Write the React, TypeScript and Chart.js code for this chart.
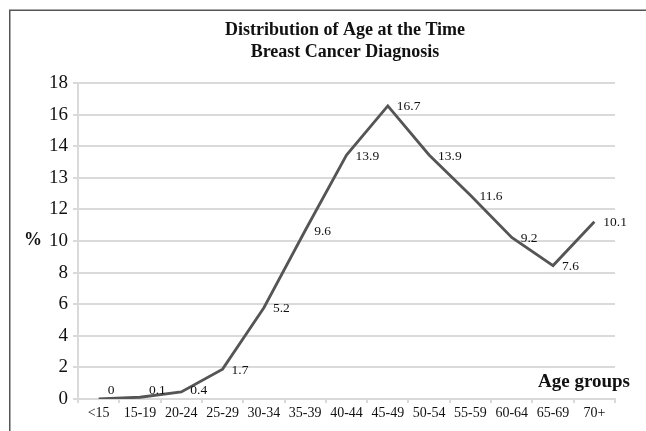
import React, { useEffect, useRef } from "react";
import { Chart, registerables } from "chart.js";

Chart.register(...registerables);

const categories = ["<15", "15-19", "20-24", "25-29", "30-34", "35-39", "40-44", "45-49", "50-54", "55-59", "60-64", "65-69", "70+"];
const percentValues = [0, 0.1, 0.4, 1.7, 5.2, 9.6, 13.9, 16.7, 13.9, 11.6, 9.2, 7.6, 10.1];
const yTickLabels = ["0", "2", "4", "6", "8", "10", "12", "13", "14", "16", "18"];
const yMax = 18;
const titleLines = ["Distribution of Age at the Time", "Breast Cancer Diagnosis"];
const xAxisTitle = "Age groups";
const yAxisTitle = "%";

const FONT = '"Liberation Serif", "DejaVu Serif", serif';

const decorPlugin = {
  id: "decor",
  beforeDraw(chart: any) {
    const ctx = chart.ctx;
    ctx.save();
    ctx.fillStyle = "#ffffff";
    ctx.fillRect(0, 0, chart.width, chart.height);
    ctx.strokeStyle = "#555555";
    ctx.lineWidth = 1.5;
    ctx.beginPath();
    ctx.moveTo(9.75, chart.height);
    ctx.lineTo(9.75, 10.25);
    ctx.lineTo(chart.width, 10.25);
    ctx.stroke();
    ctx.restore();
  },
  afterDatasetsDraw(chart: any) {
    const ctx = chart.ctx;
    const area = chart.chartArea;
    const meta = chart.getDatasetMeta(0);
    ctx.save();
    ctx.fillStyle = "#111111";
    ctx.font = `13.5px ${FONT}`;
    ctx.textAlign = "left";
    ctx.textBaseline = "middle";
    meta.data.forEach((pt: any, i: number) => {
      const y = Math.min(pt.y + 1, area.bottom - 9);
      ctx.fillText(String(percentValues[i]), pt.x + 9, y);
    });
    ctx.fillStyle = "#111";
    ctx.font = `bold 18px ${FONT}`;
    ctx.textAlign = "center";
    ctx.fillText(titleLines[0], 345, 30);
    ctx.fillText(titleLines[1], 345, 52);
    ctx.font = `bold 19px ${FONT}`;
    ctx.textAlign = "right";
    ctx.fillText(xAxisTitle, 630, 382);
    ctx.font = `bold 18px ${FONT}`;
    ctx.textAlign = "center";
    ctx.fillText(yAxisTitle, 33, 240);
    ctx.restore();
  },
};

export default function App() {
  const ref = useRef<HTMLCanvasElement | null>(null);
  useEffect(() => {
    if (!ref.current) return;
    const chart = new Chart(ref.current, {
      type: "line",
      data: {
        labels: categories,
        datasets: [
          {
            data: percentValues,
            borderColor: "#555555",
            borderWidth: 2.8,
            pointRadius: 0,
            tension: 0,
            fill: false,
          },
        ],
      },
      options: {
        animation: false,
        responsive: false,
        devicePixelRatio: 1,
        layout: { padding: { top: 83, right: 31, left: 0, bottom: 0 } },
        plugins: {
          legend: { display: false },
          title: { display: false },
          tooltip: { enabled: false },
        },
        scales: {
          x: {
            type: "category",
            offset: true,
            grid: {
              offset: true,
              drawOnChartArea: false,
              drawTicks: true,
              tickLength: 4,
              color: "#d9d9d9",
              lineWidth: 2,
            },
            border: { color: "#d9d9d9", width: 2 },
            ticks: {
              color: "#111111",
              font: { family: FONT, size: 14 },
              padding: 2,
              maxRotation: 0,
              autoSkip: false,
            },
            afterFit(scale: any) {
              scale.height = 32;
            },
          },
          y: {
            min: 0,
            max: yMax,
            afterBuildTicks(scale: any) {
              const n = yTickLabels.length - 1;
              scale.ticks = yTickLabels.map((_, i) => ({ value: (i * yMax) / n }));
            },
            grid: {
              color: "#dadada",
              lineWidth: 2,
              tickLength: 5,
            },
            border: { color: "#dadada", width: 2 },
            ticks: {
              color: "#111111",
              font: { family: FONT, size: 19 },
              padding: 5,
              callback: (_v: any, i: number) => yTickLabels[i],
            },
            afterFit(scale: any) {
              scale.width = 78;
            },
          },
        },
      },
      plugins: [decorPlugin],
    });
    return () => chart.destroy();
  }, []);
  return (
    <div style={{ position: "fixed", left: 0, top: 0, width: 646, height: 431, background: "#fff" }}>
      <canvas ref={ref} width={646} height={431} style={{ display: "block" }} />
    </div>
  );
}
